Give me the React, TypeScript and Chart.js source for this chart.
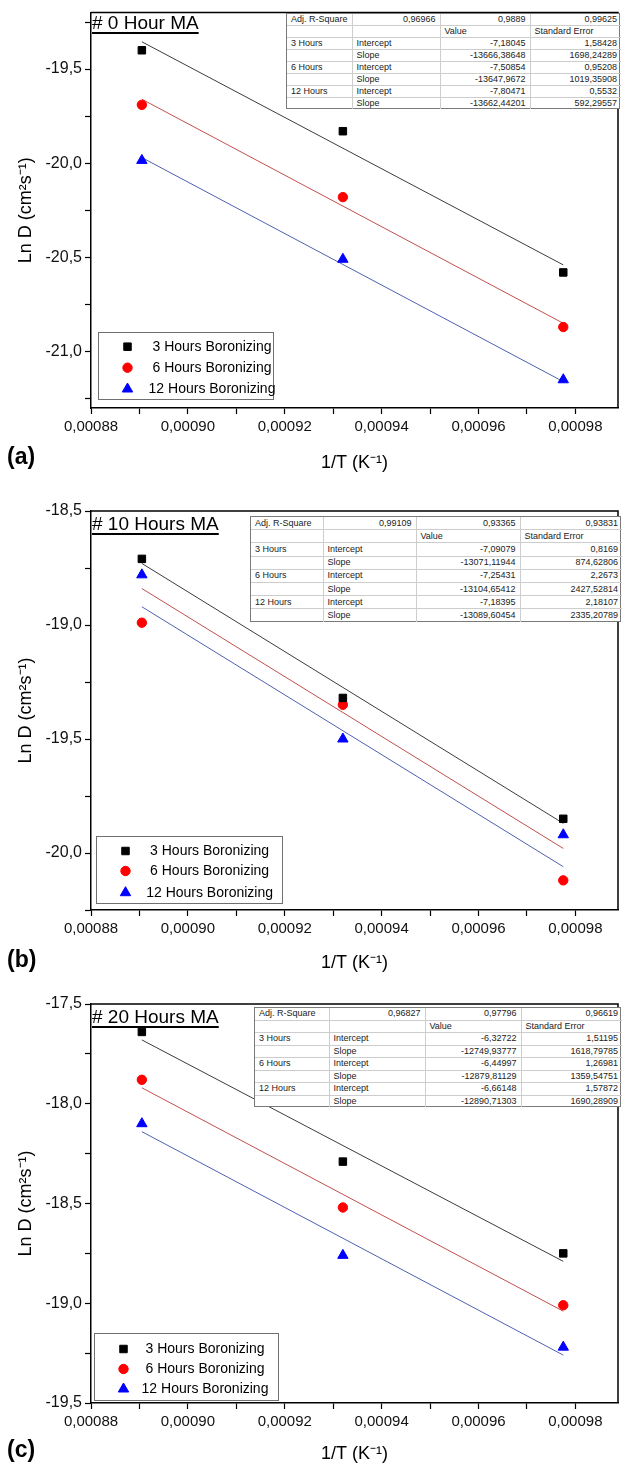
import React, { useEffect, useRef } from 'react';
import { Chart, registerables } from 'chart.js';
import { drawPoint } from 'chart.js/helpers';

Chart.register(...registerables);

const FONT = "'Liberation Sans', Arial, Helvetica, sans-serif";

// ---------------- data ----------------
const seriesLabels = ['3 Hours Boronizing', '6 Hours Boronizing', '12 Hours Boronizing'];
const inverseT = [0.0008905, 0.000932, 0.0009775];
const fitX = [0.0008905, 0.0009775];

const xMin = 0.00088;
const xMax = 0.0009888;
const xStep = 0.00001;

// (a) 0 Hour MA
const lnD0h3 = [-19.4, -19.83, -20.58];
const lnD0h6 = [-19.69, -20.18, -20.87];
const lnD0h12 = [-19.985, -20.51, -21.15];
const fit0h3 = [-19.355, -20.54];
const fit0h6 = [-19.66, -20.85];
const fit0h12 = [-19.97, -21.16];
const yRange0h = [-21.3, -19.2];

// (b) 10 Hours MA
const lnD10h3 = [-18.71, -19.32, -19.85];
const lnD10h6 = [-18.99, -19.35, -20.12];
const lnD10h12 = [-18.78, -19.5, -19.92];
const fit10h3 = [-18.73, -19.87];
const fit10h6 = [-18.84, -19.98];
const fit10h12 = [-18.92, -20.06];
const yRange10h = [-20.25, -18.5];

// (c) 20 Hours MA
const lnD20h3 = [-17.64, -18.29, -18.75];
const lnD20h6 = [-17.88, -18.52, -19.01];
const lnD20h12 = [-18.1, -18.76, -19.22];
const fit20h3 = [-17.68, -18.79];
const fit20h6 = [-17.92, -19.04];
const fit20h12 = [-18.14, -19.26];
const yRange20h = [-19.5, -17.5];

const table0h = [
  ['Adj. R-Square', '0,96966', '0,9889', '0,99625'],
  ['', '', 'Value', 'Standard Error'],
  ['3 Hours', 'Intercept', '-7,18045', '1,58428'],
  ['', 'Slope', '-13666,38648', '1698,24289'],
  ['6 Hours', 'Intercept', '-7,50854', '0,95208'],
  ['', 'Slope', '-13647,9672', '1019,35908'],
  ['12 Hours', 'Intercept', '-7,80471', '0,5532'],
  ['', 'Slope', '-13662,44201', '592,29557'],
];
const table10h = [
  ['Adj. R-Square', '0,99109', '0,93365', '0,93831'],
  ['', '', 'Value', 'Standard Error'],
  ['3 Hours', 'Intercept', '-7,09079', '0,8169'],
  ['', 'Slope', '-13071,11944', '874,62806'],
  ['6 Hours', 'Intercept', '-7,25431', '2,2673'],
  ['', 'Slope', '-13104,65412', '2427,52814'],
  ['12 Hours', 'Intercept', '-7,18395', '2,18107'],
  ['', 'Slope', '-13089,60454', '2335,20789'],
];
const table20h = [
  ['Adj. R-Square', '0,96827', '0,97796', '0,96619'],
  ['', '', 'Value', 'Standard Error'],
  ['3 Hours', 'Intercept', '-6,32722', '1,51195'],
  ['', 'Slope', '-12749,93777', '1618,79785'],
  ['6 Hours', 'Intercept', '-6,44997', '1,26981'],
  ['', 'Slope', '-12879,81129', '1359,54751'],
  ['12 Hours', 'Intercept', '-6,66148', '1,57872'],
  ['', 'Slope', '-12890,71303', '1690,28909'],
];

// ---------------- styles ----------------
const markerColors = ['#000000', '#ff0000', '#0000ff'];
const lineColors = ['#3c3c3c', '#c0504d', '#5060b0'];
const markerStyles = ['rect', 'circle', 'triangle'];
const markerRadius = [5.3, 4.7, 6];

const panels = [
  {
    key: 'a', letter: '(a)', title: '# 0 Hour MA',
    series: [lnD0h3, lnD0h6, lnD0h12], fits: [fit0h3, fit0h6, fit0h12], yRange: yRange0h, table: table0h,
    top: 0, height: 480, chartTop: 9, xAxisH: 68, padBottom: 4,
    titleBaseline: 28.5, letterCenter: 457,
    tableBox: { left: 286, top: 13, cols: [65, 88, 90, 91], rowH: 12 },
    legend: { x: 97.5, y: 331.5, w: 174.5, h: 66.5, rows: [346.7, 367.7, 389], textCx: 212 },
  },
  {
    key: 'b', letter: '(b)', title: '# 10 Hours MA',
    series: [lnD10h3, lnD10h6, lnD10h12], fits: [fit10h3, fit10h6, fit10h12], yRange: yRange10h, table: table10h,
    top: 480, height: 500, chartTop: 31, xAxisH: 66, padBottom: 4,
    titleBaseline: 50, letterCenter: 480,
    tableBox: { left: 250, top: 36, cols: [72, 93, 104, 102], rowH: 13.2 },
    legend: { x: 95.5, y: 356, w: 185.5, h: 66.7, rows: [371, 391, 412.7], textCx: 209.6 },
  },
  {
    key: 'c', letter: '(c)', title: '# 20 Hours MA',
    series: [lnD20h3, lnD20h6, lnD20h12], fits: [fit20h3, fit20h6, fit20h12], yRange: yRange20h, table: table20h,
    top: 980, height: 487, chartTop: 24, xAxisH: 64, padBottom: 0,
    titleBaseline: 43, letterCenter: 470,
    tableBox: { left: 254, top: 27, cols: [74, 96, 96, 101], rowH: 12.5 },
    legend: { x: 93.5, y: 352.7, w: 184, h: 67.3, rows: [369, 389, 409], textCx: 205 },
  },
];

const framePlugin = {
  id: 'frame',
  afterDatasetsDraw(chart: any) {
    const { ctx, chartArea } = chart;
    ctx.save();
    ctx.strokeStyle = '#000';
    ctx.lineWidth = 1.5;
    ctx.beginPath();
    ctx.moveTo(chartArea.left, chartArea.top);
    ctx.lineTo(chartArea.right, chartArea.top);
    ctx.lineTo(chartArea.right, chartArea.bottom);
    ctx.stroke();
    ctx.restore();
  },
};

const boxLegendPlugin = {
  id: 'boxLegend',
  afterDatasetsDraw(chart: any, _args: any, opts: any) {
    const L = opts.box;
    if (!L) return;
    const { ctx } = chart;
    ctx.save();
    ctx.fillStyle = '#ffffff';
    ctx.fillRect(L.x, L.y, L.w, L.h);
    ctx.strokeStyle = '#707070';
    ctx.lineWidth = 1;
    ctx.strokeRect(Math.round(L.x) + 0.5, Math.round(L.y) + 0.5, Math.round(L.w), Math.round(L.h));
    ctx.font = `14px ${FONT}`;
    ctx.textAlign = 'center';
    ctx.textBaseline = 'middle';
    for (let i = 0; i < seriesLabels.length; i++) {
      const ds = chart.data.datasets[i] as any;
      ctx.fillStyle = ds.backgroundColor;
      ctx.strokeStyle = ds.borderColor;
      ctx.lineWidth = 1;
      drawPoint(ctx, { pointStyle: ds.pointStyle, radius: ds.pointRadius, rotation: 0, borderWidth: 1 } as any, L.x + 30, L.rows[i]);
      ctx.fillStyle = '#000';
      ctx.fillText(seriesLabels[i], L.textCx, L.rows[i] + 0.5);
    }
    ctx.restore();
  },
};

function FitTable({ rows, box }: any) {
  const width = box.cols.reduce((s: number, w: number) => s + w, 0);
  const height = box.rowH * rows.length;
  const align = (i: number, j: number) => {
    if (i === 0) return j === 0 ? 'left' : 'right';
    if (i === 1) return 'left';
    return j >= 2 ? 'right' : 'left';
  };
  return (
    <div
      style={{
        position: 'absolute', left: box.left, top: box.top, width, height,
        border: '1px solid #7a7a7a', boxSizing: 'border-box', background: '#fff',
      }}
    >
      <table
        style={{
          width: '100%', height: '100%', borderCollapse: 'collapse', tableLayout: 'fixed',
          fontFamily: FONT, fontSize: 9, color: '#222',
        }}
      >
        <colgroup>
          {box.cols.map((w: number, j: number) => (
            <col key={j} style={{ width: w }} />
          ))}
        </colgroup>
        <tbody>
          {rows.map((r: string[], i: number) => (
            <tr key={i}>
              {r.map((c: string, j: number) => (
                <td
                  key={j}
                  style={{
                    borderRight: j < r.length - 1 ? '1px solid #cdcdcd' : 'none',
                    borderBottom: i < rows.length - 1 ? '1px solid #cdcdcd' : 'none',
                    padding: '0 4px', textAlign: align(i, j) as any, whiteSpace: 'nowrap',
                    overflow: 'hidden', lineHeight: '9px', height: box.rowH - 1,
                  }}
                >
                  {c}
                </td>
              ))}
            </tr>
          ))}
        </tbody>
      </table>
    </div>
  );
}

function Panel({ p }: any) {
  const ref = useRef<HTMLCanvasElement>(null);
  useEffect(() => {
    const canvas = ref.current;
    if (!canvas) return;
    const pointSets = p.series.map((vals: number[], i: number) => ({
      label: seriesLabels[i],
      data: inverseT.map((x, k) => ({ x, y: vals[k] })),
      showLine: false,
      pointStyle: markerStyles[i],
      pointRadius: markerRadius[i],
      pointBorderWidth: 1,
      backgroundColor: markerColors[i],
      borderColor: markerColors[i],
    }));
    const lineSets = p.fits.map((vals: number[], i: number) => ({
      label: seriesLabels[i] + ' fit',
      data: fitX.map((x, k) => ({ x, y: vals[k] })),
      showLine: true,
      pointRadius: 0,
      borderWidth: 1,
      borderColor: lineColors[i],
      backgroundColor: lineColors[i],
      fill: false,
    }));
    const chart = new Chart(canvas, {
      type: 'scatter',
      data: { datasets: [...pointSets, ...lineSets] },
      options: {
        responsive: false,
        maintainAspectRatio: false,
        animation: false,
        devicePixelRatio: 1,
        layout: { padding: { left: 0, right: 2, top: p.chartTop, bottom: p.padBottom } },
        plugins: {
          legend: { display: false },
          tooltip: { enabled: false },
          boxLegend: { box: p.legend },
        } as any,
        scales: {
          x: {
            type: 'linear',
            min: xMin,
            max: xMax,
            afterFit: (s: any) => { s.height = p.xAxisH; },
            ticks: {
              stepSize: xStep,
              includeBounds: false,
              autoSkip: false,
              maxRotation: 0,
              minRotation: 0,
              padding: 4,
              color: '#111',
              font: { family: FONT, size: 15 },
              callback: (v: any) => {
                const k = Math.round(Number(v) / xStep);
                return k % 2 === 0 ? Number(v).toFixed(5).replace('.', ',') : '';
              },
            },
            grid: { display: true, drawOnChartArea: false, drawTicks: true, tickLength: 6, tickColor: '#000', tickWidth: 1.2 },
            border: { display: true, color: '#000', width: 1.5 },
            title: {
              display: true,
              text: '1/T (K\u207B\u00B9)',
              color: '#000',
              font: { family: FONT, size: 18 },
              padding: { top: 0, bottom: 2 },
            },
          },
          y: {
            type: 'linear',
            min: p.yRange[0],
            max: p.yRange[1],
            afterFit: (s: any) => { s.width = 91; },
            ticks: {
              stepSize: 0.25,
              includeBounds: false,
              autoSkip: false,
              padding: 3,
              color: '#111',
              font: { family: FONT, size: 16 },
              callback: (v: any) => {
                const n = Number(v);
                return Math.abs(n * 2 - Math.round(n * 2)) < 1e-6 ? n.toFixed(1).replace('.', ',') : '';
              },
            },
            grid: { display: true, drawOnChartArea: false, drawTicks: true, tickLength: 6, tickColor: '#000', tickWidth: 1.2 },
            border: { display: true, color: '#000', width: 1.5 },
            title: {
              display: true,
              text: 'Ln D (cm\u00B2s\u207B\u00B9)',
              color: '#000',
              font: { family: FONT, size: 18 },
              padding: { top: 15, bottom: 0 },
            },
          },
        },
      } as any,
      plugins: [framePlugin, boxLegendPlugin],
    });
    return () => chart.destroy();
  }, [p]);

  return (
    <div style={{ position: 'absolute', left: 0, top: p.top, width: 625, height: p.height }}>
      <canvas ref={ref} width={625} height={p.height} style={{ display: 'block', width: 625, height: p.height }} />
      <div
        style={{
          position: 'absolute', left: 92, top: p.titleBaseline - 16, fontFamily: FONT, fontSize: 19,
          lineHeight: '19px', color: '#000', textDecoration: 'underline', textUnderlineOffset: '3px',
          textDecorationThickness: '1.5px', whiteSpace: 'nowrap',
        }}
      >
        {p.title}
      </div>
      <FitTable rows={p.table} box={p.tableBox} />
      <div
        style={{
          position: 'absolute', left: 7, top: p.letterCenter - 12, fontFamily: FONT, fontSize: 23,
          fontWeight: 'bold', lineHeight: '23px', color: '#000',
        }}
      >
        {p.letter}
      </div>
    </div>
  );
}

export default function App() {
  return (
    <div style={{ position: 'absolute', left: 0, top: 0, width: 625, height: 1467, overflow: 'hidden', background: '#fff' }}>
      {panels.map((p) => (
        <Panel key={p.key} p={p} />
      ))}
    </div>
  );
}
